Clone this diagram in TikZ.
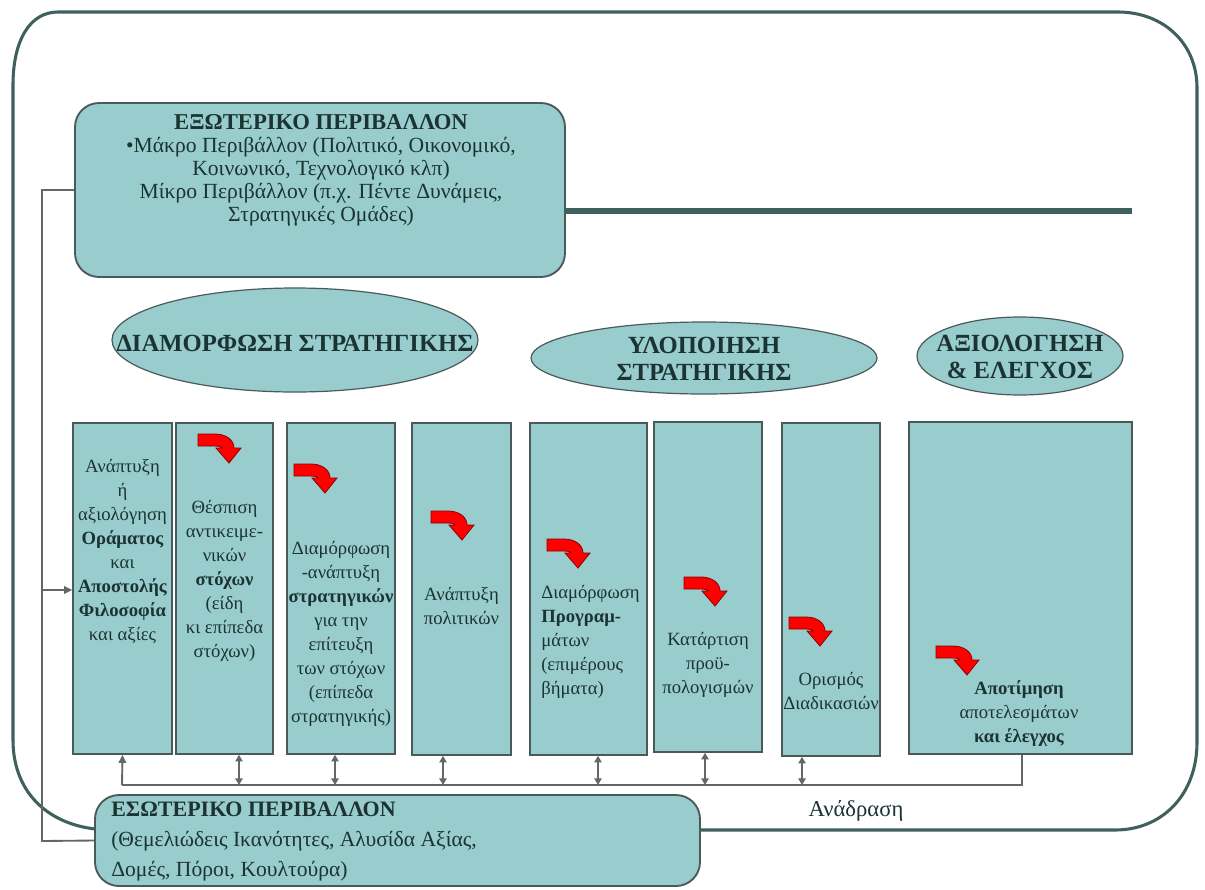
\documentclass[tikz,border=0pt]{standalone}
\usepackage{fontspec}
\setmainfont{Liberation Serif}
\usetikzlibrary{shapes.geometric,arrows.meta,fit}
\definecolor{tealfill}{HTML}{99CCCC}
\definecolor{tealdark}{HTML}{3E615E}
\definecolor{txt}{HTML}{1C3333}
\definecolor{connc}{HTML}{666666}
\definecolor{boxline}{HTML}{4A5A5A}
\definecolor{arrred}{HTML}{FF0000}
\definecolor{arrdark}{HTML}{8A0000}
\begin{document}
\begin{tikzpicture}[x=0.75pt,y=-0.75pt,
  colbox/.style={draw=boxline, line width=1.2pt, fill=tealfill, inner sep=0pt},
  rbox/.style={draw=boxline, line width=1.4pt, fill=tealfill, rounded corners=18pt, inner sep=0pt},
  ell/.style={ellipse, draw=boxline, line width=0.9pt, fill=tealfill, inner sep=0pt},
  coltext/.style={text=txt, align=center, font=\fontsize{14}{18}\selectfont, inner sep=0pt},
  elltext/.style={text=txt, align=center, font=\fontsize{18.5}{20.5}\selectfont\bfseries, inner sep=0pt},
  conn/.style={draw=connc, line width=1.4pt},
  tip/.style={-{Triangle[length=6pt,width=5.5pt]}},
  dbl/.style={{Triangle[length=5pt,width=5.5pt]}-{Triangle[length=5pt,width=5.5pt]}},
  redarr/.pic={\filldraw[fill=arrred, draw=arrdark, line width=0.6pt]
    (0,0) -- (17,0) .. controls (28,0) and (36,6) .. (36,14) -- (43,14) -- (31,29) -- (18,14) -- (24,14)
    .. controls (24,13) and (21,12) .. (17,12) -- (0,12) -- cycle;}
]
\useasboundingbox (0,0) rectangle (1205,889);
\fill[white] (0,0) rectangle (1205,889);

% outer frame
\draw[tealdark, line width=2.3pt]
  (13,85) .. controls (13,40) and (30,12) .. (58,12) -- (1118,12)
  .. controls (1162,12) and (1197,42) .. (1197,88) -- (1197,742)
  .. controls (1197,795) and (1162,830) .. (1115,830) -- (112,830)
  .. controls (52,830) and (13,795) .. (13,740) -- cycle;

% external environment box
\node[rbox, fit={(75,103) (565,277)}] (ext) {};
\coordinate (thickend) at (1132,211);
\draw[tealdark, line width=4.5pt] (ext.east |- thickend) -- (thickend);
\node[text=txt, align=center, inner sep=0pt, font=\fontsize{16.2}{17.3}\selectfont] (exttext) at (321,170)
  {{\fontsize{17}{17.3}\selectfont\bfseries ΕΞΩΤΕΡΙΚΟ ΠΕΡΙΒΑΛΛΟΝ}\\
   •Μάκρο Περιβάλλον (Πολιτικό, Οικονομικό,\\
   Κοινωνικό, Τεχνολογικό κλπ)\\
   Μίκρο Περιβάλλον (π.χ. Πέντε Δυνάμεις,\\
   Στρατηγικές Ομάδες)};

% ellipses
\node[ell, minimum width=274.5pt, minimum height=78pt] (e1) at (295,340) {};
\node[elltext] (e1t) at (295,343) {ΔΙΑΜΟΡΦΩΣΗ ΣΤΡΑΤΗΓΙΚΗΣ};
\node[ell, minimum width=259.5pt, minimum height=54pt] (e2) at (704,358) {};
\node[elltext] (e2t) at (704,359) {ΥΛΟΠΟΙΗΣΗ\\ ΣΤΡΑΤΗΓΙΚΗΣ};
\node[ell, minimum width=154.5pt, minimum height=58.5pt] (e3) at (1020,356) {};
\node[elltext] (e3t) at (1020,357) {ΑΞΙΟΛΟΓΗΣΗ\\ \& ΕΛΕΓΧΟΣ};

% columns
\node[colbox, fit={(73,423) (172,754)}] (c1) {};
\node[colbox, fit={(176,423) (273,754)}] (c2) {};
\node[colbox, fit={(287,423) (395,754)}] (c3) {};
\node[colbox, fit={(412,423) (511,755)}] (c4) {};
\node[colbox, fit={(530,423) (647,755)}] (c5) {};
\node[colbox, fit={(654,422) (762,752)}] (c6) {};
\node[colbox, fit={(782,423) (880,756)}] (c7) {};
\node[colbox, fit={(909,422) (1132,754)}] (c8) {};

% column texts
\node[coltext] (t1) at (122.5,552) {Ανάπτυξη\\ ή\\ αξιολόγηση\\ \textbf{Οράματος}\\ και\\ \textbf{Αποστολής}\\ \textbf{Φιλοσοφία}\\ και αξίες};
\node[coltext] (t2) at (224.5,581) {Θέσπιση\\ αντικειμε-\\ νικών\\ \textbf{στόχων}\\ (είδη\\ κι επίπεδα\\ στόχων)};
\node[coltext] (t3) at (341,634) {Διαμόρφωση\\ -ανάπτυξη\\ \textbf{στρατηγικών}\\ για την\\ επίτευξη\\ των στόχων\\ (επίπεδα\\ στρατηγικής)};
\node[coltext] (t4) at (461.5,606) {Ανάπτυξη\\ πολιτικών};
\node[coltext, align=left, anchor=west] (t5) at (541,642) {Διαμόρφωση\\ \textbf{Προγραμ-}\\ μάτων\\ (επιμέρους\\ βήματα)};
\node[coltext] (t6) at (708,665) {Κατάρτιση\\ προϋ-\\ πολογισμών};
\node[coltext] (t7) at (831,691) {Ορισμός\\ Διαδικασιών};
\node[coltext] (t8) at (1019,714) {\textbf{Αποτίμηση}\\ αποτελεσμάτων\\ \textbf{και έλεγχος}};

% red arrows
\pic at (198,434) {redarr};
\pic at (294,464) {redarr};
\pic at (431,511) {redarr};
\pic at (547,539) {redarr};
\pic at (684,577) {redarr};
\pic at (789,617) {redarr};
\pic at (936,646) {redarr};

% internal environment box
\node[rbox, fit={(95,795) (700,886)}] (int) {};
\node[text=txt, align=left, anchor=west, inner sep=0pt, font=\fontsize{16.2}{22.5}\selectfont] (inttext) at (111,842)
  {{\fontsize{16.5}{22.5}\selectfont\bfseries ΕΣΩΤΕΡΙΚΟ ΠΕΡΙΒΑΛΛΟΝ}\\
   (Θεμελιώδεις Ικανότητες, Αλυσίδα Αξίας,\\
   Δομές, Πόροι, Κουλτούρα)};

% left connector
\coordinate (lb) at (42,841);
\coordinate (la) at (42,590);
\draw[conn] (ext.west) -| (lb) -- (int.west);
\draw[conn, tip] (la) -- (c1.west |- la);

% feedback
\coordinate (fbL) at (122,785);
\coordinate (fbR) at (1022,785);
\draw[conn] (c8.south -| fbR) -- (fbR) -- (fbL);
\draw[conn, tip] (fbL) -- (c1.south);
\coordinate (f2) at (239,785);
\coordinate (f3) at (335,785);
\coordinate (f4) at (443,785);
\coordinate (f5) at (598,785);
\coordinate (f6) at (705,785);
\coordinate (f7) at (802,785);
\draw[conn, dbl] (c2.south -| f2) -- (f2);
\draw[conn, dbl] (c3.south -| f3) -- (f3);
\draw[conn, dbl] (c4.south -| f4) -- (f4);
\draw[conn, dbl] (c5.south -| f5) -- (f5);
\draw[conn, dbl] (c6.south -| f6) -- (f6);
\draw[conn, dbl] (c7.south -| f7) -- (f7);
\node[text=txt, inner sep=0pt, font=\fontsize{17}{18}\selectfont] (fbtext) at (856,811) {Ανάδραση};
\end{tikzpicture}
\end{document}
